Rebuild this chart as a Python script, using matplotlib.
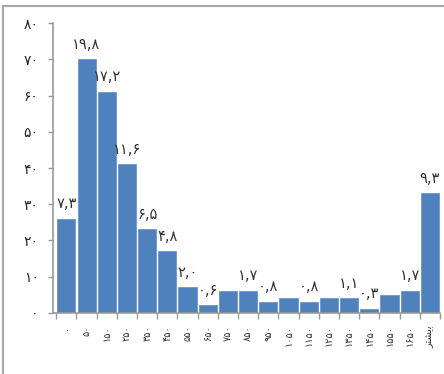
import matplotlib
matplotlib.use("Agg")
import matplotlib.pyplot as plt
from matplotlib.lines import Line2D

# bins (upper edges) and counts per bin
bins = [0, 50, 150, 250, 350, 450, 550, 650, 750, 850, 950,
        1050, 1150, 1250, 1350, 1450, 1550, 1650]
counts = [26, 70, 61, 41, 23, 17, 7, 2, 6, 6, 3, 4, 3, 4, 4, 1, 5, 6, 33]
# percent labels shown above some of the bars
percents = [7.3, 19.8, 17.2, 11.6, 6.5, 4.8, 2.0, 0.6, None, 1.7, 0.8,
            None, 0.8, None, 1.1, 0.3, None, 1.7, 9.3]
yticks = [0, 10, 20, 30, 40, 50, 60, 70, 80]

FA = str.maketrans("0123456789.", "۰۱۲۳۴۵۶۷۸۹,")


def fa(s):
    return str(s).translate(FA)


# "بیشتر" in shaped presentation forms, visual order
more_label = "\uFEAE\uFE98\uFEB8\uFBFE\uFE91"

plt.rcParams["font.family"] = ["DejaVu Sans"]
fig = plt.figure(figsize=(4.44, 3.74), dpi=100)
ax = fig.add_axes([53.3 / 444, 1 - 312.7 / 374, (440 - 53.3) / 444, (312.7 - 23.3) / 374])

xs = list(range(len(counts)))
ax.bar(xs, counts, width=0.9, color="#4F81BD", edgecolor="#6C96CA", linewidth=0.6)

for x, c, p in zip(xs, counts, percents):
    if p is None:
        continue
    ax.annotate(fa(f"{p:.1f}"), (x, c), xytext=(0, 5.5), textcoords="offset points",
                ha="center", va="bottom", fontsize=10.5, color="#333333")

ax.set_xlim(-0.5 - 3.0 / 20.2, len(counts) - 0.5)
ax.set_ylim(0, 80)
ax.set_yticks(yticks)
ax.set_yticklabels([fa(v) for v in yticks], fontsize=10, color="#222222")

# category labels under the bars, ticks at bin boundaries
ax.set_xticks(xs)
ax.set_xticklabels([fa(b) for b in bins] + [more_label], rotation=90, fontsize=7,
                   color="#333333")
ax.set_xticks([x + 0.5 for x in [-1] + xs], minor=True)
ax.tick_params(axis="x", which="major", length=0, pad=9)
ax.tick_params(axis="x", which="minor", length=4.5, color="#9a9a9a", width=1)
ax.tick_params(axis="y", length=3.5, color="#9a9a9a", width=1, pad=7)

for side in ("top", "right"):
    ax.spines[side].set_visible(False)
for side in ("left", "bottom"):
    ax.spines[side].set_color("#9a9a9a")
    ax.spines[side].set_linewidth(1.2)

# outer chart frame: only its top and left edges fall inside the image
fx, fy = 2.5 / 444, 1 - 5.5 / 374
fig.add_artist(Line2D([fx, fx], [0, fy], transform=fig.transFigure,
                      color="#a6a6a6", linewidth=1.5))
fig.add_artist(Line2D([fx, 1], [fy, fy], transform=fig.transFigure,
                      color="#a6a6a6", linewidth=1.5))

fig.savefig("out.png", dpi=100)
